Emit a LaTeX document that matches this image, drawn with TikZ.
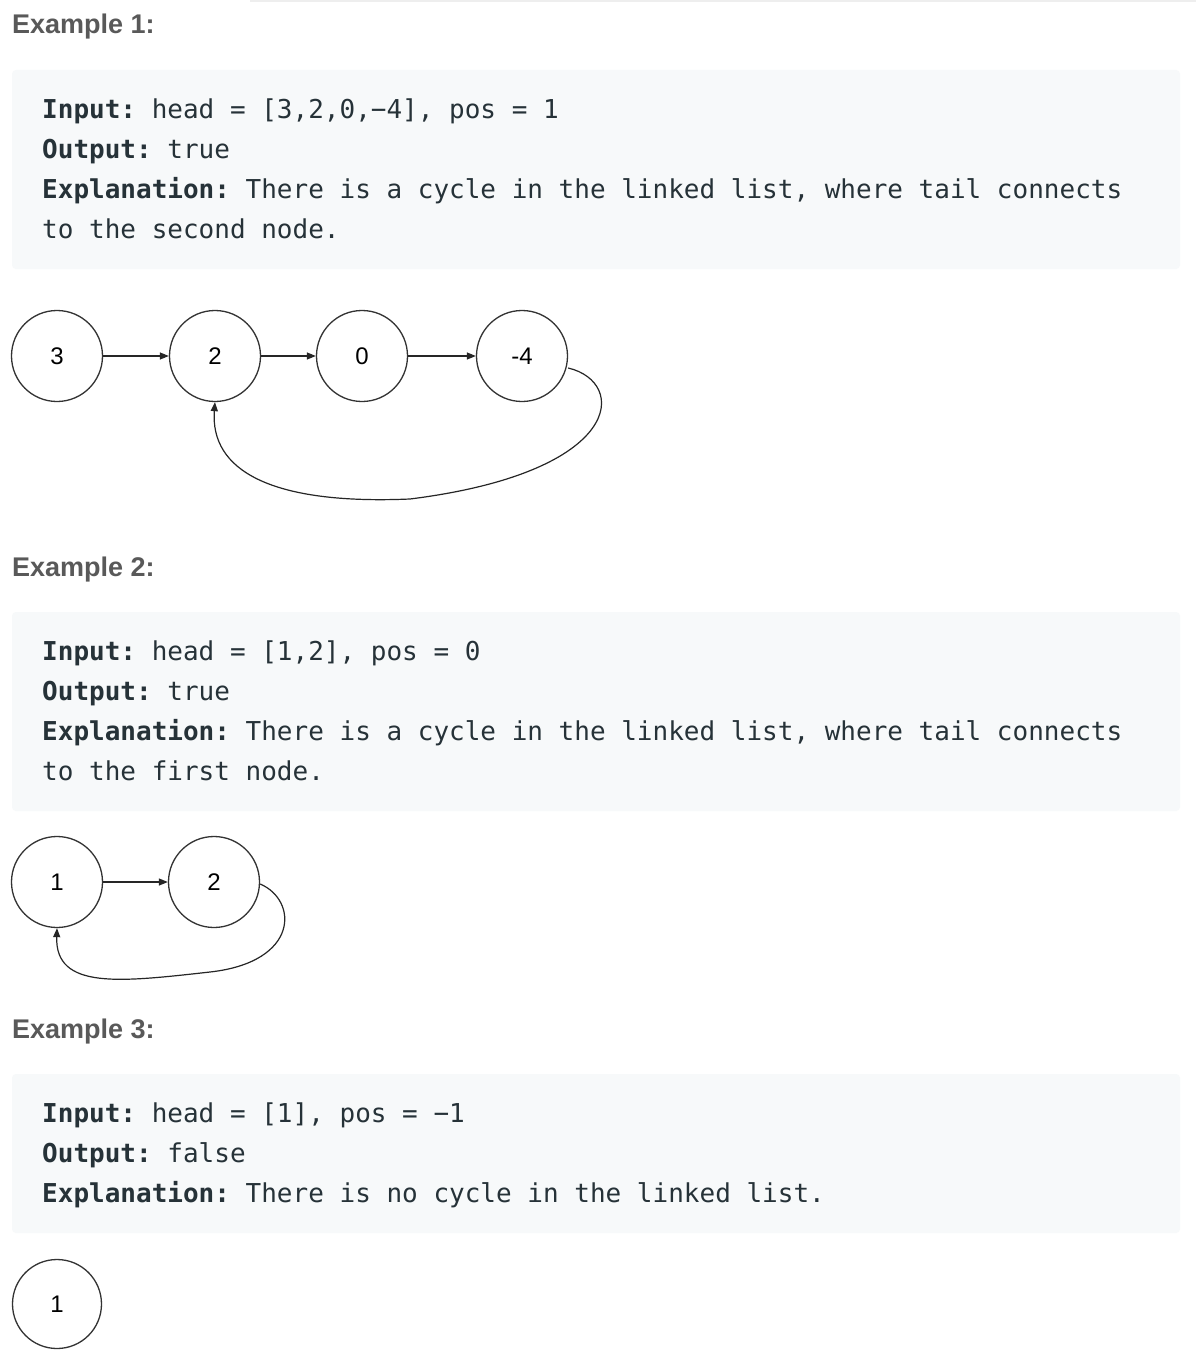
\documentclass[tikz,border=0pt]{standalone}
\usepackage{fontspec}
\setmainfont{Liberation Sans}
\newfontfamily\codefont{DejaVu Sans Mono}
\usetikzlibrary{arrows.meta}
\frenchspacing
\definecolor{boxbg}{HTML}{F7F9FA}
\definecolor{codetxt}{HTML}{263238}
\definecolor{headtxt}{HTML}{595959}
\definecolor{ringcol}{HTML}{333333}
\definecolor{rulecol}{HTML}{EEEEEE}
\tikzset{
  heading/.style={anchor=base west, inner sep=0, text=headtxt,
    font=\fontsize{27}{32}\selectfont\bfseries},
  codeline/.style={anchor=base west, inner sep=0, text=codetxt,
    font=\codefont\fontsize{26}{30}\selectfont},
  codebox/.style={fill=boxbg, draw=none, rounded corners=4pt},
  listnode/.style={circle, draw=ringcol, line width=1.3pt, minimum size=91pt,
    inner sep=0, text=black, font=\fontsize{24}{28}\selectfont},
  link/.style={draw=black!85, line width=1.2pt,
    -{Triangle[length=9pt,width=7pt]}}
}
\begin{document}
\begin{tikzpicture}[x=1pt,y=-1pt]
  \useasboundingbox[fill=white] (0,0) rectangle (1196,1354);
  \fill[rulecol] (250,0) rectangle (1196,2);

  % Example 1
  \node[heading] (h1) at (12,34) {Example 1:};
  \fill[codebox] (12,70) rectangle (1180,269);
  \node[codeline] (a1) at (42,118) {\textbf{Input:} head = [3,2,0,−4], pos = 1};
  \node[codeline] (a2) at (42,158) {\textbf{Output:} true};
  \node[codeline] (a3) at (42,198) {\textbf{Explanation:} There is a cycle in the linked list, where tail connects};
  \node[codeline] (a4) at (42,238) {to the second node.};

  \node[listnode] (n3) at (57,356) {3};
  \node[listnode] (n2) at (215,356) {2};
  \node[listnode] (n0) at (362,356) {0};
  \node[listnode] (n4) at (522,356) {-4};
  \draw[link] (n3) -- (n2);
  \draw[link] (n2) -- (n0);
  \draw[link] (n0) -- (n4);
  \draw[link] (n4.east) ++(0,12) .. controls (628,382) and (625,472) .. (410,499)
    .. controls (270,505) and (210,470) .. (n2.south);

  % Example 2
  \node[heading] (h2) at (12,576) {Example 2:};
  \fill[codebox] (12,612) rectangle (1180,811);
  \node[codeline] (b1) at (42,660) {\textbf{Input:} head = [1,2], pos = 0};
  \node[codeline] (b2) at (42,700) {\textbf{Output:} true};
  \node[codeline] (b3) at (42,740) {\textbf{Explanation:} There is a cycle in the linked list, where tail connects};
  \node[codeline] (b4) at (42,780) {to the first node.};

  \node[listnode] (m1) at (57,882) {1};
  \node[listnode] (m2) at (214,882) {2};
  \draw[link] (m1) -- (m2);
  \draw[link] (m2.east) ++(0,2) .. controls (298,900) and (300,962) .. (210,972)
    .. controls (120,982) and (55,990) .. (m1.south);

  % Example 3
  \node[heading] (h3) at (12,1038) {Example 3:};
  \fill[codebox] (12,1074) rectangle (1180,1233);
  \node[codeline] (c1) at (42,1122) {\textbf{Input:} head = [1], pos = −1};
  \node[codeline] (c2) at (42,1162) {\textbf{Output:} false};
  \node[codeline] (c3) at (42,1202) {\textbf{Explanation:} There is no cycle in the linked list.};

  \node[listnode, minimum size=89pt] (k1) at (57,1304) {1};
\end{tikzpicture}
\end{document}
